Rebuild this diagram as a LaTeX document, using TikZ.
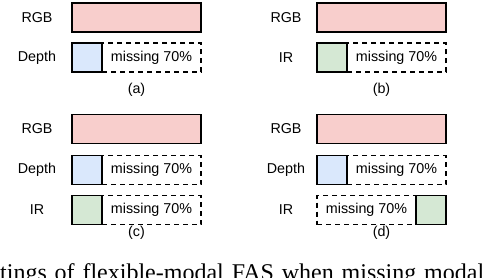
\documentclass[tikz,border=0pt]{standalone}
\usepackage{fontspec}
\setmainfont{Liberation Sans}
\newfontfamily\capfont{Liberation Serif}
\usepackage{tikz}
\usetikzlibrary{positioning}

\begin{document}
\begin{tikzpicture}[
    x=1pt, y=-1pt,
    bar/.style={draw, line width=1.8pt, inner sep=0pt, outer sep=0pt, minimum height=29pt},
    rgbbar/.style={bar, fill=rgbpink, minimum width=129pt},
    depbox/.style={bar, fill=depblue, minimum width=30pt},
    irbox/.style={bar, fill=irgreen, minimum width=30pt},
    missbox/.style={bar, dash pattern=on 5pt off 4pt, fill=white, minimum width=99pt, font=\fontsize{14.3}{17}\selectfont},
    lbl/.style={font=\fontsize{14.3}{17}\selectfont, inner sep=0pt}
]
\definecolor{rgbpink}{HTML}{F8CECC}
\definecolor{depblue}{HTML}{DAE8FC}
\definecolor{irgreen}{HTML}{D5E8D4}
\clip (0,0) rectangle (484,278);

% (a)
\node[lbl] (labRgbA) at (37,17.5) {RGB};
\node[rgbbar] (rgbA) at (136.5,17.5) {};
\node[lbl] (labDepA) at (37,57.5) {Depth};
\node[missbox] (missA) at (151.5,57.5) {missing 70\%};
\node[depbox] (depA) at (87,57.5) {};
\node[lbl] (subA) at (136.5,90) {(a)};

% (b)
\node[lbl] (labRgbB) at (286,17.5) {RGB};
\node[rgbbar] (rgbB) at (381.5,17.5) {};
\node[lbl] (labIrB) at (286,57.5) {IR};
\node[missbox] (missB) at (396.5,57.5) {missing 70\%};
\node[irbox] (irB) at (332,57.5) {};
\node[lbl] (subB) at (381.5,90) {(b)};

% (c)
\node[lbl] (labRgbC) at (37,129) {RGB};
\node[rgbbar] (rgbC) at (136.5,129) {};
\node[lbl] (labDepC) at (37,170) {Depth};
\node[missbox] (missC1) at (151.5,170) {missing 70\%};
\node[depbox] (depC) at (87,170) {};
\node[lbl] (labIrC) at (37,210) {IR};
\node[missbox] (missC2) at (151.5,210) {missing 70\%};
\node[irbox] (irC) at (87,210) {};
\node[lbl] (subC) at (136.5,233) {(c)};

% (d)
\node[lbl] (labRgbD) at (286,129) {RGB};
\node[rgbbar] (rgbD) at (381.5,129) {};
\node[lbl] (labDepD) at (286,170) {Depth};
\node[missbox] (missD1) at (396.5,170) {missing 70\%};
\node[depbox] (depD) at (332,170) {};
\node[lbl] (labIrD) at (286,210) {IR};
\node[missbox] (missD2) at (366.5,210) {missing 70\%};
\node[irbox] (irD) at (431,210) {};
\node[lbl] (subD) at (381.5,233) {(d)};

% caption line, cut off by the page edge
\node[anchor=base west, inner sep=0pt, font=\capfont\fontsize{24}{28}\selectfont] (capt) at (0,280.5)
    {\makebox[484pt][s]{tings of flexible-modal FAS when missing modal}};
\end{tikzpicture}
\end{document}
